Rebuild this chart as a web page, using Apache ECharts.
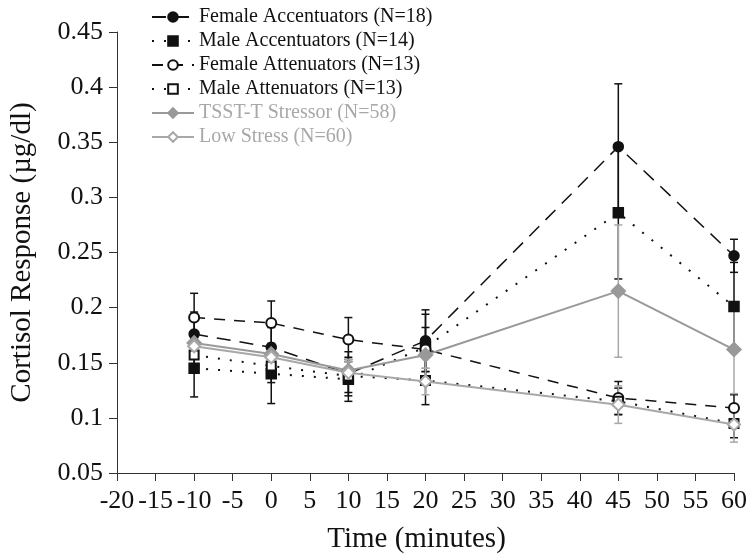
<!DOCTYPE html>
<html>
<head>
<meta charset="utf-8">
<script src="https://cdn.jsdelivr.net/npm/echarts@6/dist/echarts.min.js"></script>
<style>html,body{margin:0;padding:0;background:#fff}#c{width:750px;height:559px}</style>
</head>
<body>
<div id="c"></div>
<script>
const times = [-10, 0, 10, 20, 45, 60];
const xTicks = [-20, 60, 5];
const yTicks = [0.05, 0.45, 0.05];

const femaleAccName = 'Female Accentuators (N=18)';
const femaleAcc    = [0.176, 0.164, 0.140, 0.170, 0.346, 0.247];
const femaleAccErr = [0.020, 0.018, 0.020, 0.028, 0.057, 0.015];

const maleAccName = 'Male Accentuators (N=14)';
const maleAcc    = [0.145, 0.140, 0.135, 0.164, 0.286, 0.201];
const maleAccErr = [0.026, 0.027, 0.020, 0.030, 0.060, 0.040];

const femaleAttName = 'Female Attenuators (N=13)';
const femaleAtt    = [0.191, 0.186, 0.171, 0.162, 0.118, 0.109];
const femaleAttErr = [0.022, 0.020, 0.020, 0.020, 0.015, 0.012];

const maleAttName = 'Male Attenuators (N=13)';
const maleAtt    = [0.157, 0.147, 0.138, 0.134, 0.115, 0.095];
const maleAttErr = [0.015, 0.015, 0.015, 0.022, 0.012, 0.013];

const tsstName = 'TSST-T Stressor (N=58)';
const tsst    = [0.168, 0.158, 0.143, 0.157, 0.215, 0.162];
const tsstErr = [0.010, 0.010, 0.010, 0.012, 0.060, 0.040];

const lowName = 'Low Stress (N=60)';
const low    = [0.165, 0.155, 0.141, 0.133, 0.112, 0.094];
const lowErr = [0.010, 0.010, 0.010, 0.012, 0.017, 0.016];

const BLACK = '#111';
const GRAY = '#999';
const LGRAY = '#a8a8a8';
const FONT = '"Liberation Serif", "DejaVu Serif", serif';

function pts(vals){ return times.map((t,i)=>[t, vals[i]]); }
function errData(vals, errs){ return times.map((t,i)=>[t, vals[i]-errs[i], vals[i]+errs[i]]); }

function errSeries(vals, errs, color){
  return {
    type: 'custom', silent: true, z: 1,
    data: errData(vals, errs),
    encode: {x: 0, y: [1, 2]},
    renderItem: function(params, api){
      const x = api.value(0);
      const lo = api.coord([x, api.value(1)]);
      const hi = api.coord([x, api.value(2)]);
      const w = 4;
      const st = {stroke: color, lineWidth: 1.5};
      return {type: 'group', children: [
        {type:'line', shape:{x1:lo[0], y1:lo[1], x2:hi[0], y2:hi[1]}, style: st},
        {type:'line', shape:{x1:lo[0]-w, y1:lo[1], x2:lo[0]+w, y2:lo[1]}, style: st},
        {type:'line', shape:{x1:hi[0]-w, y1:hi[1], x2:hi[0]+w, y2:hi[1]}, style: st}
      ]};
    }
  };
}

function lineSeries(name, vals, color, dash, width, symbol, size, z){
  return {
    name: name, type: 'line', data: pts(vals), z: z,
    symbol: symbol, symbolSize: size,
    lineStyle: {color: color, width: width, type: dash},
    itemStyle: {color: color, borderColor: color, borderWidth: 1.5},
    emphasis: {disabled: true}
  };
}

const chart = echarts.init(document.getElementById('c'));
chart.setOption({
  animation: false,
  backgroundColor: '#fff',
  grid: {left: 115, right: 16, top: 32, bottom: 83},
  legend: {
    orient: 'vertical', left: 146, top: 2,
    itemWidth: 42, itemHeight: 12, itemGap: 4,
    textStyle: {fontFamily: FONT, fontSize: 20, color: BLACK},
    data: [
      {name: femaleAccName}, {name: maleAccName}, {name: femaleAttName}, {name: maleAttName},
      {name: tsstName, textStyle: {color: LGRAY}}, {name: lowName, textStyle: {color: LGRAY}}
    ]
  },
  xAxis: {
    type: 'value', min: xTicks[0], max: xTicks[1], interval: xTicks[2],
    name: 'Time (minutes)', nameLocation: 'middle', nameGap: 52,
    nameTextStyle: {fontFamily: FONT, fontSize: 29, color: BLACK, padding: [0, 18, 0, 0]},
    axisLine: {onZero: false, lineStyle: {color: '#333', width: 1}},
    axisTick: {show: true, length: 8, lineStyle: {color: '#333'}},
    axisLabel: {fontFamily: FONT, fontSize: 26, color: BLACK, margin: 15},
    splitLine: {show: false}
  },
  yAxis: {
    type: 'value', min: yTicks[0], max: yTicks[1], interval: yTicks[2],
    name: 'Cortisol Response (µg/dl)', nameLocation: 'middle', nameGap: 80,
    nameTextStyle: {fontFamily: FONT, fontSize: 29, color: BLACK},
    axisLine: {show: true, onZero: false, lineStyle: {color: '#333', width: 1}},
    axisTick: {show: true, length: 8, lineStyle: {color: '#333'}},
    axisLabel: {fontFamily: FONT, fontSize: 26, color: BLACK, margin: 14,
      formatter: v => String(Math.round(v*100)/100)},
    splitLine: {show: false}
  },
  series: [
    errSeries(femaleAcc, femaleAccErr, BLACK),
    errSeries(maleAcc, maleAccErr, BLACK),
    errSeries(femaleAtt, femaleAttErr, BLACK),
    errSeries(maleAtt, maleAttErr, BLACK),
    errSeries(tsst, tsstErr, LGRAY),
    errSeries(low, lowErr, LGRAY),
    lineSeries(femaleAccName, femaleAcc, BLACK, [14, 9], 1.5, 'circle', 10, 3),
    lineSeries(maleAccName, maleAcc, BLACK, [2, 10], 2, 'rect', 10, 3),
    lineSeries(femaleAttName, femaleAtt, BLACK, [11, 9], 1.5, 'emptyCircle', 10, 3),
    lineSeries(maleAttName, maleAtt, BLACK, [2, 10], 2, 'emptyRect', 9, 3),
    lineSeries(tsstName, tsst, GRAY, 'solid', 2, 'diamond', 14, 4),
    lineSeries(lowName, low, LGRAY, 'solid', 2, 'emptyDiamond', 12, 4)
  ]
});
</script>
</body>
</html>
